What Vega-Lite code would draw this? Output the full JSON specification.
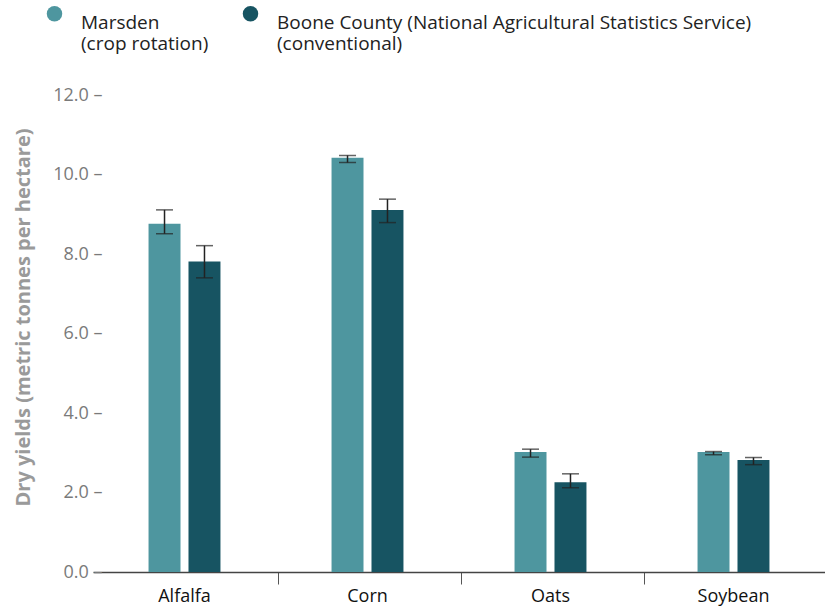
{
  "$schema": "https://vega.github.io/schema/vega-lite/v6.json",
  "width": 732,
  "height": 477,
  "autosize": {"type": "none"},
  "padding": {"left": 93, "top": 95, "right": 0, "bottom": 38},
  "background": "white",
  "config": {
    "view": {"stroke": null},
    "font": "Open Sans"
  },
  "data": {
    "values": [
      {"crop": "Alfalfa", "source": "Marsden", "value": 8.76, "lo": 8.51, "hi": 9.11},
      {"crop": "Alfalfa", "source": "Boone", "value": 7.81, "lo": 7.40, "hi": 8.21},
      {"crop": "Corn", "source": "Marsden", "value": 10.42, "lo": 10.30, "hi": 10.48},
      {"crop": "Corn", "source": "Boone", "value": 9.11, "lo": 8.79, "hi": 9.38},
      {"crop": "Oats", "source": "Marsden", "value": 3.02, "lo": 2.89, "hi": 3.09},
      {"crop": "Oats", "source": "Boone", "value": 2.26, "lo": 2.12, "hi": 2.47},
      {"crop": "Soybean", "source": "Marsden", "value": 3.02, "lo": 2.95, "hi": 3.03},
      {"crop": "Soybean", "source": "Boone", "value": 2.82, "lo": 2.70, "hi": 2.88}
    ]
  },
  "encoding": {
    "x": {
      "field": "crop",
      "type": "nominal",
      "sort": ["Alfalfa", "Corn", "Oats", "Soybean"],
      "scale": {"paddingInner": 0.607, "paddingOuter": 0.3035},
      "axis": {
        "title": null,
        "labelAngle": 0,
        "labelFontSize": 18,
        "labelColor": "#111111",
        "labelPadding": 3,
        "tickSize": 12,
        "tickColor": "#555555",
        "tickWidth": 1,
        "bandPosition": 1.81,
        "domainColor": "#444444",
        "domainWidth": 1.5,
        "grid": false
      }
    },
    "xOffset": {
      "field": "source",
      "type": "nominal",
      "sort": ["Marsden", "Boone"],
      "scale": {"paddingInner": 0.2, "paddingOuter": 0}
    }
  },
  "layer": [
    {
      "mark": {"type": "bar"},
      "encoding": {
        "y": {
          "field": "value",
          "type": "quantitative",
          "scale": {"domain": [0, 12]},
          "axis": {
            "title": "Dry yields (metric tonnes per hectare)",
            "titleFontSize": 20,
            "titleFontWeight": "bold",
            "titleColor": "#9a9a9a",
            "titleX": -60,
            "titleY": 222,
            "values": [0, 2, 4, 6, 8, 10, 12],
            "labelExpr": "format(datum.value, '.1f') + ' –'",
            "labelFontSize": 18,
            "labelColor": "#7a7a7a",
            "labelPadding": -9,
            "ticks": false,
            "domain": false,
            "grid": false
          }
        },
        "color": {
          "field": "source",
          "type": "nominal",
          "scale": {"domain": ["Marsden", "Boone"], "range": ["#4e969f", "#175462"]},
          "legend": {
            "title": null,
            "orient": "none",
            "direction": "horizontal",
            "legendX": -48,
            "legendY": -91,
            "symbolType": "circle",
            "symbolSize": 240,
            "symbolStrokeWidth": 0,
            "labelFontSize": 19,
            "labelColor": "#222222",
            "labelOffset": 17,
            "labelBaseline": "top",
            "labelLimit": 0,
            "columnPadding": 32,
            "labelExpr": "datum.label == 'Marsden' ? ['Marsden', '(crop rotation)'] : ['Boone County (National Agricultural Statistics Service)', '(conventional)']"
          }
        }
      }
    },
    {
      "mark": {"type": "rule", "color": "#222222", "strokeWidth": 1.5},
      "encoding": {
        "y": {"field": "lo", "type": "quantitative"},
        "y2": {"field": "hi"}
      }
    },
    {
      "mark": {"type": "tick", "color": "#222222", "thickness": 1.5, "size": 17},
      "encoding": {
        "y": {"field": "lo", "type": "quantitative"}
      }
    },
    {
      "mark": {"type": "tick", "color": "#222222", "thickness": 1.5, "size": 17},
      "encoding": {
        "y": {"field": "hi", "type": "quantitative"}
      }
    }
  ]
}
